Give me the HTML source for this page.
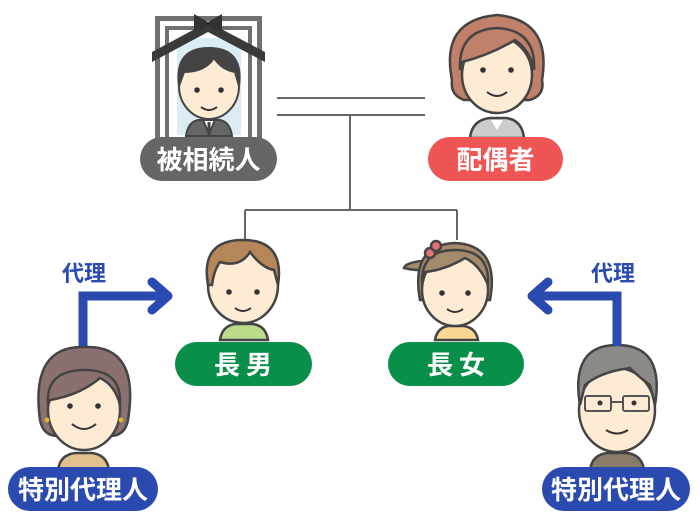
<!DOCTYPE html>
<html><head><meta charset="utf-8"><style>
html,body{margin:0;padding:0;background:#fff;width:700px;height:525px;overflow:hidden}
svg{display:block}
text{font-family:"Liberation Sans","Noto Sans CJK JP",sans-serif;font-weight:bold}
</style></head><body>
<svg width="700" height="525" viewBox="0 0 700 525" xmlns="http://www.w3.org/2000/svg">
<g stroke="#666" stroke-width="2" fill="none">
<line x1="277" y1="98" x2="425" y2="98"/>
<line x1="277" y1="115" x2="425" y2="115"/>
<line x1="350" y1="115" x2="350" y2="210"/>
<line x1="245" y1="210" x2="457" y2="210"/>
<line x1="245" y1="210" x2="245" y2="240"/>
<line x1="457" y1="210" x2="457" y2="240"/>
</g>

<!-- deceased frame -->
<rect x="155" y="16" width="107" height="122" fill="#707070"/>
<rect x="160" y="21" width="97" height="117" fill="#fff"/>
<rect x="165" y="26" width="87" height="112" fill="#707070"/>
<rect x="169" y="30" width="79" height="108" fill="#fff"/>
<rect x="177" y="38" width="64" height="97" fill="#dcecf5"/>
<g stroke="#444" stroke-width="2">
<path d="M186 136 Q188 122 198 120 L220 120 Q230 122 232 136Z" fill="#666"/>
<path d="M203 120 L209 134 L215 120Z" fill="#fff"/>
<line x1="209" y1="122" x2="209" y2="136" stroke-width="3"/>
<ellipse cx="209" cy="86" rx="30" ry="33" fill="#fdebd3"/>
<path d="M179 86 Q174 48 209 48 Q244 48 239 86 L235 72 Q222 70 214 58 Q205 72 184 72Z" fill="#444"/>
</g>
<circle cx="197" cy="90" r="2.8" fill="#333"/><circle cx="221" cy="90" r="2.8" fill="#333"/>
<path d="M201 107 Q209 113 217 107" stroke="#333" stroke-width="2" fill="none"/>
<path d="M152 52 L208 22 L265 52 L265 62 L208 32 L152 62Z" fill="#3a3a3a"/>
<path d="M194 14 L208 22 L222 14 L222 32 L208 26 L194 32Z" fill="#333"/>

<!-- spouse -->
<g stroke="#444" stroke-width="2.5">
<path d="M470 138 Q472 120 490 118 L506 118 Q522 120 524 138Z" fill="#ccc"/>
<path d="M491 120 L497 130 L503 120Z" fill="#fff" stroke="none"/>
<path d="M452 80 Q440 20 497 15 Q552 20 542 80 Q545 95 530 100 L464 100 Q450 95 452 80Z" fill="#c0806a"/>
<ellipse cx="497" cy="75" rx="35" ry="38" fill="#fdebd3"/>
<path d="M460 70 Q458 30 497 28 Q536 30 534 70 Q530 50 515 40 Q490 55 462 62Z" fill="#c0806a"/>
</g>
<circle cx="483" cy="70" r="2.8" fill="#333"/><circle cx="511" cy="70" r="2.8" fill="#333"/>
<path d="M487 92 Q497 100 507 92" stroke="#333" stroke-width="2" fill="none"/>

<!-- son -->
<g stroke="#444" stroke-width="2.5">
<path d="M220 340 Q222 326 235 324 L253 324 Q266 326 268 340Z" fill="#b9db8a"/>
<ellipse cx="243" cy="285" rx="35" ry="38" fill="#fdebd3"/>
<path d="M208 285 Q200 240 243 240 Q285 240 278 285 L274 270 Q262 268 250 252 Q240 268 220 262 Q214 270 212 285Z" fill="#b58657"/>
</g>
<circle cx="229" cy="292" r="2.8" fill="#333"/><circle cx="257" cy="292" r="2.8" fill="#333"/>
<path d="M235 308 Q243 314 251 308" stroke="#333" stroke-width="2" fill="none"/>

<!-- daughter -->
<g stroke="#444" stroke-width="2.5">
<path d="M435 340 Q437 328 448 326 L464 326 Q476 328 478 340Z" fill="#fbd794"/>
<path d="M430 260 Q405 262 404 268 Q420 272 430 268Z" fill="#a48b6c"/>
<path d="M420 300 Q410 245 455 243 Q500 245 490 300Z" fill="#a48b6c"/>
<ellipse cx="455" cy="290" rx="33" ry="36" fill="#fdebd3"/>
<path d="M422 285 Q420 250 455 250 Q490 250 488 285 Q480 265 465 258 Q445 270 425 272Z" fill="#a48b6c"/>
<circle cx="430" cy="253" r="5" fill="#e8707a"/><circle cx="436" cy="246" r="5" fill="#e8707a"/>
</g>
<circle cx="442" cy="293" r="2.8" fill="#333"/><circle cx="468" cy="293" r="2.8" fill="#333"/>
<path d="M447 309 Q455 315 463 309" stroke="#333" stroke-width="2" fill="none"/>

<!-- left agent -->
<g stroke="#444" stroke-width="2.5">
<path d="M58 470 Q60 455 75 453 L92 453 Q107 455 109 470Z" fill="#e2c08f"/>
<path d="M40 420 Q30 345 85 347 Q140 345 128 420 Q125 436 110 436 L58 436 Q43 436 40 420Z" fill="#8a7170"/>
<ellipse cx="84" cy="410" rx="36" ry="40" fill="#fdebd3"/>
<path d="M48 405 Q45 370 85 370 Q122 370 120 405 Q115 385 100 378 Q80 395 50 400Z" fill="#8a7170"/>
</g>
<circle cx="70" cy="406" r="2.8" fill="#333"/><circle cx="98" cy="406" r="2.8" fill="#333"/>
<path d="M72 424 Q84 434 96 424" stroke="#333" stroke-width="2" fill="none"/>
<circle cx="47" cy="420" r="2.5" fill="#e0b030"/><circle cx="121" cy="420" r="2.5" fill="#e0b030"/>

<!-- right agent -->
<g stroke="#444" stroke-width="2.5">
<path d="M590 470 Q592 455 607 453 L627 453 Q642 455 644 470Z" fill="#8a7a6a"/>
<ellipse cx="617" cy="410" rx="38" ry="42" fill="#fdebd3"/>
<path d="M580 405 Q570 345 617 345 Q665 345 655 405 L650 385 Q640 378 630 368 Q600 372 585 385Z" fill="#8c8a86"/>
</g>
<g stroke="#555" stroke-width="2" fill="none">
<rect x="585" y="396" width="26" height="15" rx="2"/><rect x="623" y="396" width="26" height="15" rx="2"/>
<line x1="611" y1="402" x2="623" y2="402"/>
</g>
<circle cx="600" cy="403" r="2.5" fill="#333"/><circle cx="634" cy="403" r="2.5" fill="#333"/>
<path d="M606 430 Q617 437 628 430" stroke="#333" stroke-width="2" fill="none"/>

<!-- arrows -->
<g stroke="#2a4ab0" stroke-width="9" fill="none">
<path d="M83 346 L83 296 L165 296"/>
<path d="M152 282 L168 296 L152 310" stroke-linecap="round" stroke-linejoin="round"/>
<path d="M617 346 L617 296 L535 296"/>
<path d="M548 282 L532 296 L548 310" stroke-linecap="round" stroke-linejoin="round"/>
</g>
<text x="84" y="281" font-size="22" fill="#2a4ab0" text-anchor="middle">代理</text>
<text x="613" y="281" font-size="22" fill="#2a4ab0" text-anchor="middle">代理</text>

<!-- labels -->
<rect x="140" y="137" width="137" height="44" rx="22" fill="#666"/>
<text x="208.5" y="169" font-size="26" fill="#fff" text-anchor="middle">被相続人</text>
<rect x="428" y="137" width="135" height="44" rx="22" fill="#f05555"/>
<text x="495.5" y="169" font-size="26" fill="#fff" text-anchor="middle">配偶者</text>
<rect x="175" y="342" width="137" height="44" rx="22" fill="#0a8f4a"/>
<text x="246" y="374" font-size="26" fill="#fff" text-anchor="middle" letter-spacing="6">長男</text>
<rect x="388" y="342" width="136" height="44" rx="22" fill="#0a8f4a"/>
<text x="459" y="374" font-size="26" fill="#fff" text-anchor="middle" letter-spacing="6">長女</text>
<rect x="8" y="467" width="150" height="44" rx="22" fill="#2a4ab0"/>
<text x="83" y="499" font-size="26" fill="#fff" text-anchor="middle">特別代理人</text>
<rect x="542" y="467" width="148" height="44" rx="22" fill="#2a4ab0"/>
<text x="616" y="499" font-size="26" fill="#fff" text-anchor="middle">特別代理人</text>
</svg>
</body></html>
